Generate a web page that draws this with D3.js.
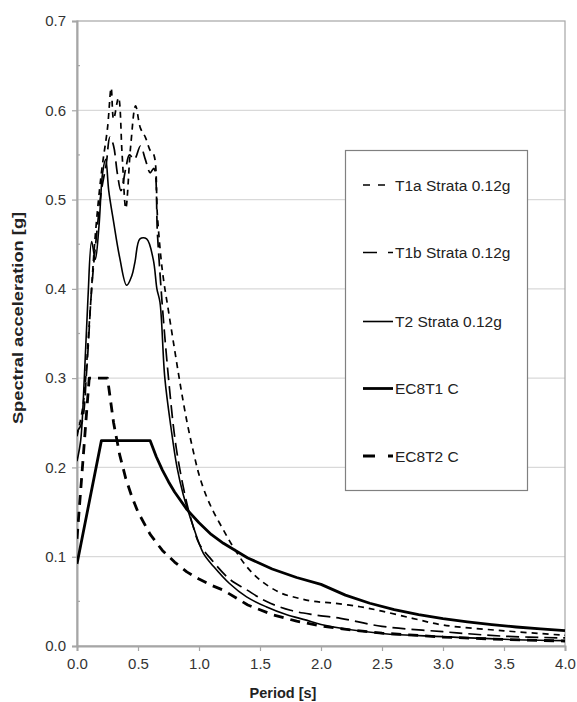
<!DOCTYPE html>
<html><head><meta charset="utf-8">
<script src="https://cdn.jsdelivr.net/npm/d3@7"></script>
<style>body{margin:0;background:#fff}</style>
</head><body><svg id="c" width="577" height="702"></svg>
<script>
// ---- data ----
const xTicks = [0, 0.5, 1.0, 1.5, 2.0, 2.5, 3.0, 3.5, 4.0];
const yTicks = [0, 0.1, 0.2, 0.3, 0.4, 0.5, 0.6, 0.7];
const yMinorTicks = [0.05, 0.15, 0.25, 0.35, 0.45, 0.55, 0.65];
const seriesNames = ["T1a Strata 0.12g", "T1b Strata 0.12g", "T2 Strata 0.12g", "EC8T1 C", "EC8T2 C"];
const t1a = [[0,0.235],[0.05,0.27],[0.1,0.36],[0.15,0.46],[0.2,0.53],[0.25,0.58],[0.28,0.625],[0.3,0.59],[0.34,0.614],[0.37,0.55],[0.4,0.49],[0.44,0.56],[0.48,0.605],[0.52,0.58],[0.56,0.57],[0.6,0.555],[0.63,0.55],[0.66,0.48],[0.7,0.42],[0.75,0.375],[0.8,0.332],[0.85,0.29],[0.9,0.252],[0.95,0.22],[1.0,0.192],[1.06,0.168],[1.12,0.15],[1.2,0.13],[1.28,0.111],[1.39,0.089],[1.5,0.074],[1.66,0.06],[1.8,0.054],[1.94,0.05],[2.1,0.048],[2.32,0.044],[2.5,0.039],[2.75,0.031],[3.0,0.0235],[3.5,0.017],[4.0,0.012]];
const t1b = [[0,0.24],[0.04,0.25],[0.08,0.31],[0.12,0.40],[0.16,0.46],[0.2,0.51],[0.24,0.54],[0.27,0.57],[0.3,0.56],[0.33,0.53],[0.36,0.51],[0.4,0.535],[0.43,0.55],[0.47,0.545],[0.52,0.56],[0.56,0.545],[0.6,0.53],[0.63,0.535],[0.66,0.46],[0.7,0.38],[0.75,0.30],[0.8,0.235],[0.84,0.2],[0.9,0.16],[0.95,0.135],[1.0,0.115],[1.1,0.097],[1.25,0.075],[1.39,0.063],[1.55,0.05],[1.75,0.04],[1.94,0.035],[2.16,0.031],[2.5,0.022],[3.0,0.016],[3.5,0.011],[4.0,0.009]];
const t2 = [[0,0.207],[0.03,0.23],[0.06,0.3],[0.09,0.39],[0.12,0.453],[0.15,0.433],[0.18,0.47],[0.21,0.53],[0.235,0.545],[0.26,0.51],[0.3,0.475],[0.35,0.435],[0.407,0.404],[0.45,0.415],[0.475,0.43],[0.516,0.456],[0.571,0.456],[0.625,0.433],[0.655,0.40],[0.68,0.385],[0.72,0.30],[0.77,0.245],[0.82,0.2],[0.87,0.17],[0.95,0.135],[1.035,0.104],[1.12,0.089],[1.25,0.07],[1.39,0.055],[1.55,0.044],[1.72,0.035],[1.88,0.029],[2.0,0.024],[2.5,0.014],[3.0,0.0105],[3.5,0.0075],[4.0,0.006]];
const ec8t1 = [[0,0.092],[0.2,0.23],[0.6,0.23],[0.65,0.212],[0.7,0.197],[0.75,0.184],[0.8,0.1725],[0.9,0.153],[1.0,0.138],[1.1,0.125],[1.2,0.115],[1.4,0.0986],[1.6,0.0863],[1.8,0.0767],[2.0,0.069],[2.2,0.057],[2.4,0.0479],[2.6,0.0408],[2.8,0.0352],[3.0,0.0307],[3.2,0.027],[3.4,0.0239],[3.6,0.0213],[3.8,0.0191],[4.0,0.0173]];
const ec8t2 = [[0,0.12],[0.1,0.3],[0.25,0.3],[0.3,0.25],[0.35,0.214],[0.4,0.1875],[0.45,0.167],[0.5,0.15],[0.6,0.125],[0.7,0.107],[0.8,0.094],[0.9,0.083],[1.0,0.075],[1.1,0.068],[1.2,0.0625],[1.4,0.0459],[1.6,0.0352],[1.8,0.0278],[2.0,0.0225],[2.25,0.0178],[2.5,0.0144],[3.0,0.01],[3.5,0.0073],[4.0,0.0056]];

// ---- layout / styles ----
const allSeries = [t1a, t1b, t2, ec8t1, ec8t2];
const styles = [
  {w:1.7, dash:"6,5", legDash:"7,8", curve:d3.curveCatmullRom.alpha(0.5)},
  {w:1.7, dash:"13,6", legDash:"14,11", curve:d3.curveCatmullRom.alpha(0.5)},
  {w:1.6, dash:null, legDash:null, curve:d3.curveCatmullRom.alpha(0.5)},
  {w:2.8, dash:null, legDash:null, curve:d3.curveLinear},
  {w:2.8, dash:"10,7", legDash:"12,13", curve:d3.curveLinear}
];
const L=77, R=565, T=21, B=646;
const svg = d3.select("#c");
const font = "'Liberation Sans', Arial, sans-serif";
const x = d3.scaleLinear().domain([0,4]).range([L,R]);
const y = d3.scaleLinear().domain([0,0.7]).range([B,T]);

// gridlines
svg.append("g").selectAll("line").data(yTicks.filter(d=>d>0 && d<0.7)).join("line")
  .attr("x1",L).attr("x2",R).attr("y1",d=>y(d)).attr("y2",d=>y(d))
  .attr("stroke","#d9d9d9").attr("stroke-width",1.2);

// frame
svg.append("rect").attr("x",L).attr("y",T).attr("width",R-L).attr("height",B-T)
  .attr("fill","none").attr("stroke","#a6a6a6").attr("stroke-width",1.2);

// axes
const yAxis = svg.append("g").attr("transform",`translate(${L},0)`)
  .call(d3.axisLeft(y).tickValues(yTicks).tickFormat(d3.format(".1f")).tickSize(5).tickPadding(6));
const xAxis = svg.append("g").attr("transform",`translate(0,${B})`)
  .call(d3.axisBottom(x).tickValues(xTicks).tickFormat(d3.format(".1f")).tickSize(5).tickPadding(7));
[yAxis,xAxis].forEach(a=>{
  a.select(".domain").attr("stroke","#a6a6a6").attr("stroke-width",2);
  a.selectAll(".tick line").attr("stroke","#a6a6a6").attr("stroke-width",1.2);
  a.selectAll(".tick text").attr("font-family",font).attr("font-size",15).attr("fill","#333");
});
svg.append("g").selectAll("line").data(yMinorTicks).join("line")
  .attr("x1",L).attr("x2",L+3).attr("y1",d=>y(d)).attr("y2",d=>y(d))
  .attr("stroke","#a6a6a6").attr("stroke-width",1.2);

// clip
svg.append("clipPath").attr("id","pc").append("rect").attr("x",L).attr("y",T-2).attr("width",R-L+2).attr("height",B-T+2);

const lines = svg.append("g").attr("clip-path","url(#pc)");
allSeries.forEach((s,i)=>{
  const st = styles[i];
  const gen = d3.line().x(d=>x(d[0])).y(d=>y(d[1])).curve(st.curve);
  lines.append("path").attr("d",gen(s)).attr("fill","none").attr("stroke","#000")
    .attr("stroke-width",st.w).attr("stroke-dasharray",st.dash).attr("stroke-linejoin","round");
});

// legend
const lg = svg.append("g");
lg.append("rect").attr("x",345.5).attr("y",150.5).attr("width",182).attr("height",340)
  .attr("fill","#fff").attr("stroke","#808080").attr("stroke-width",1.2);
const legY = [185, 252.5, 321.5, 388.5, 456];
seriesNames.forEach((n,i)=>{
  const st = styles[i];
  lg.append("line").attr("x1",363).attr("x2",393).attr("y1",legY[i]).attr("y2",legY[i])
    .attr("stroke","#000").attr("stroke-width",st.w).attr("stroke-dasharray",st.legDash);
  lg.append("text").attr("x",395).attr("y",legY[i]+5.5).text(n)
    .attr("font-family",font).attr("font-size",15.5).attr("fill","#222");
});

// axis titles
svg.append("text").attr("x",283).attr("y",698).attr("text-anchor","middle")
  .attr("font-family",font).attr("font-weight","bold").attr("font-size",14.5).attr("fill","#222").text("Period [s]");
svg.append("text").attr("transform",`translate(23,318) rotate(-90) scale(1.18,1)`).attr("text-anchor","middle")
  .attr("font-family",font).attr("font-weight","bold").attr("font-size",15.5).attr("fill","#222").text("Spectral acceleration [g]");
</script></body></html>
